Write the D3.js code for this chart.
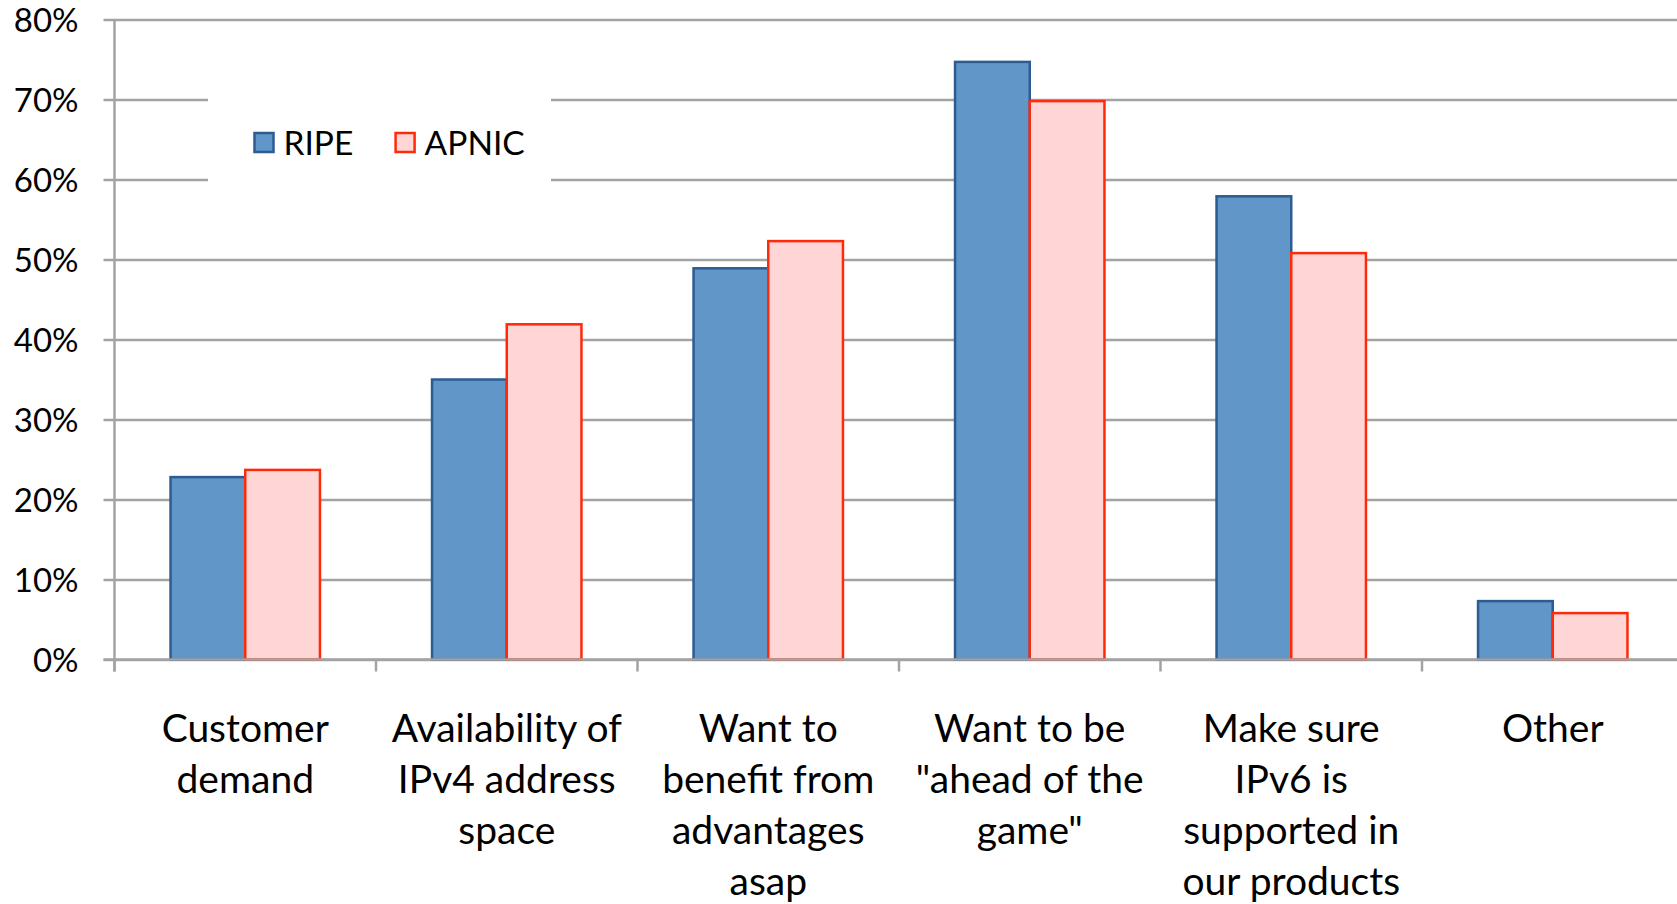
<!DOCTYPE html>
<html>
<head>
<meta charset="utf-8">
<script src="https://cdn.jsdelivr.net/npm/d3@7"></script>
<style>
  html, body { margin: 0; padding: 0; background: #fff; }
  svg { display: block; }
  text { font-family: Lato, "Open Sans", sans-serif; fill: #000; }
</style>
</head>
<body>
<svg id="chart" width="1677" height="904"></svg>
<script>
// ---- data ----
const categories = [
  "Customer demand",
  "Availability of IPv4 address space",
  "Want to benefit from advantages asap",
  "Want to be \"ahead of the game\"",
  "Make sure IPv6 is supported in our products",
  "Other"
];
const categoryLines = [
  ["Customer", "demand"],
  ["Availability of", "IPv4 address", "space"],
  ["Want to", "benefit from", "advantages", "asap"],
  ["Want to be", "\"ahead of the", "game\""],
  ["Make sure", "IPv6 is", "supported in", "our products"],
  ["Other"]
];
const seriesNames = ["RIPE", "APNIC"];
const ripeValues  = [0.228, 0.350, 0.489, 0.747, 0.579, 0.073];
const apnicValues = [0.237, 0.419, 0.523, 0.698, 0.508, 0.058];
const yTicks = [0, 0.1, 0.2, 0.3, 0.4, 0.5, 0.6, 0.7, 0.8];

const fills   = { RIPE: "#6096C8", APNIC: "#FFD6D5" };
const strokes = { RIPE: "#2C5C92", APNIC: "#FF2A0A" };

// ---- layout ----
const svg = d3.select("#chart");
const W = 1677;
const plotLeft = 114.5, bandW = 261.5, plotTop = 19.5, plotBottom = 659.5;

const y = d3.scaleLinear().domain([0, 0.8]).range([plotBottom, plotTop]);
const x0 = d3.scaleBand().domain(categories)
  .range([plotLeft, plotLeft + bandW * categories.length])
  .paddingInner(0).paddingOuter(0);
const x1 = d3.scaleBand().domain(seriesNames)
  .range([0, x0.bandwidth()]).paddingInner(0).paddingOuter(0.75);

const gridColor = "#A3A3A3";

// gridlines + y labels
const yAxis = d3.axisLeft(y)
  .tickValues(yTicks)
  .tickFormat(d3.format(".0%"))
  .tickSize(-(W - (plotLeft - 11)))
  .tickPadding(25);
const gy = svg.append("g").attr("transform", `translate(${plotLeft - 11},0)`).call(yAxis);
gy.select(".domain").remove();
gy.selectAll(".tick line").attr("stroke", gridColor).attr("stroke-width", 2.5);
gy.selectAll(".tick text").attr("font-size", 33).attr("font-family", "Lato").attr("fill", "#000").attr("dy", "0.36em");

// legend background (masks gridlines)
const legend = svg.append("g");
legend.append("rect").attr("x", 208).attr("y", 88).attr("width", 343).attr("height", 110).attr("fill", "#fff");

// y axis line
svg.append("line")
  .attr("x1", plotLeft).attr("x2", plotLeft)
  .attr("y1", plotTop).attr("y2", plotBottom + 12)
  .attr("stroke", gridColor).attr("stroke-width", 2.5);

// category boundary ticks
svg.append("g").selectAll("line").data(categories).join("line")
  .attr("x1", d => x0(d)).attr("x2", d => x0(d))
  .attr("y1", plotBottom).attr("y2", plotBottom + 12)
  .attr("stroke", gridColor).attr("stroke-width", 2.5);

// bars
const rows = categories.map((c, i) => ({ cat: c, vals: [
  { s: "RIPE", v: ripeValues[i] }, { s: "APNIC", v: apnicValues[i] } ] }));
const groups = svg.append("g").selectAll("g").data(rows).join("g")
  .attr("transform", d => `translate(${x0(d.cat)},0)`);
groups.selectAll("rect").data(d => d.vals).join("rect")
  .attr("x", d => x1(d.s))
  .attr("y", d => y(d.v))
  .attr("width", x1.bandwidth())
  .attr("height", d => y(0) - y(d.v))
  .attr("fill", d => fills[d.s])
  .attr("stroke", d => strokes[d.s])
  .attr("stroke-width", 2.5);

// x axis line redrawn over bar bottoms
svg.append("line")
  .attr("x1", plotLeft - 11).attr("x2", W)
  .attr("y1", plotBottom).attr("y2", plotBottom)
  .attr("stroke", gridColor).attr("stroke-width", 2.5);

// category labels
const xAxis = d3.axisBottom(x0).tickSize(0).tickFormat("");
const gx = svg.append("g").attr("transform", `translate(0,${plotBottom})`).call(xAxis);
gx.select(".domain").remove();
gx.selectAll(".tick").each(function(d, i) {
  const t = d3.select(this).append("text")
    .attr("text-anchor", "middle")
    .attr("font-size", 39)
    .attr("fill", "#000");
  categoryLines[i].forEach((line, k) => {
    t.append("tspan").attr("x", 0).attr("y", 82 + k * 51.3).text(line);
  });
});

// legend items
const legendX = [253.5, 394.6];
seriesNames.forEach((s, i) => {
  legend.append("rect")
    .attr("x", legendX[i] + 1).attr("y", 133).attr("width", 19).attr("height", 19)
    .attr("fill", fills[s]).attr("stroke", strokes[s]).attr("stroke-width", 2.5);
  legend.append("text")
    .attr("x", legendX[i] + 30).attr("y", 143).attr("dy", "0.36em")
    .attr("font-size", 33.5).text(s);
});
</script>
</body>
</html>
